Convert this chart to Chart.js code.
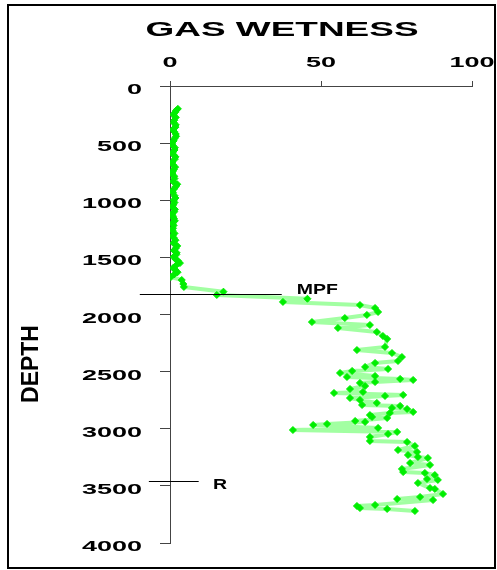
<!DOCTYPE html>
<html>
<head>
<meta charset="utf-8">
<script src="https://cdn.jsdelivr.net/npm/chart.js@4"></script>
<style>
  body { margin: 0; background: #fff; }
  canvas { display: block; }
</style>
</head>
<body>
<canvas id="canvas" width="497" height="570"></canvas>
<script>
var chartTitle = 'GAS WETNESS';
var yAxisTitle = 'DEPTH';
var xTicks = [0, 50, 100];
var yTicks = [0, 500, 1000, 1500, 2000, 2500, 3000, 3500, 4000];
var markerNames = ['MPF', 'R'];
var markerDepths = [1820, 3460];

var depthFt = [
    200, 215, 230, 250, 275, 300, 320, 340, 360, 380,
    400, 420, 440, 460, 480, 500, 520, 540, 560, 580,
    600, 620, 640, 665, 690, 710, 730, 750, 770, 790,
    810, 835, 860, 880, 900, 920, 935, 960, 980, 1000,
    1020, 1040, 1060, 1080, 1100, 1120, 1140, 1160, 1180, 1200,
    1220, 1245, 1265, 1290, 1310, 1330, 1350, 1375, 1400, 1420,
    1440, 1460, 1475, 1495, 1515, 1530, 1550, 1570, 1593, 1610,
    1630, 1650, 1672, 1698, 1733, 1759,
    1800, 1829, 1862, 1890, 1917, 1943, 1978, 2004, 2031, 2066,
    2092, 2118, 2153, 2188, 2214, 2284, 2311, 2337, 2372, 2407,
    2424, 2459, 2477, 2494, 2512, 2538, 2547, 2564, 2573, 2591,
    2599, 2626, 2652, 2678, 2687, 2704, 2713, 2731, 2748, 2774,
    2792, 2800, 2818, 2827, 2853, 2862, 2880, 2897, 2906, 2932,
    2941, 2958, 2967, 2993, 3011, 3028, 3046, 3072, 3107, 3116,
    3151, 3186, 3203, 3230, 3247, 3256, 3300, 3317, 3352, 3379,
    3387, 3405, 3440, 3448, 3475, 3519, 3527, 3571, 3597, 3615,
    3624, 3667, 3676, 3694, 3702, 3720
];
var wetness = [
    2.6, 2.0, 1.7, 1.1, 1.9, 1.4, 1.2, 1.9, 1.8, 1.0,
    1.4, 1.9, 2.0, 1.5, 1.2, 0.7, 0.9, 1.6, 1.5, 0.9,
    1.1, 1.8, 1.6, 0.8, 1.0, 1.7, 1.3, 0.9, 0.8, 1.4,
    1.5, 1.0, 2.4, 1.9, 1.4, 0.8, 1.0, 1.5, 1.8, 1.2,
    1.5, 1.1, 0.9, 1.6, 1.4, 0.7, 1.0, 1.3, 1.6, 0.9,
    1.2, 1.0, 0.8, 1.5, 0.9, 1.3, 1.8, 1.1, 2.4, 1.9,
    1.3, 2.2, 2.1, 1.2, 1.8, 2.6, 3.3, 2.0, 1.0, 1.8,
    2.5, 1.4, 0.3, 3.9, 4.4, 4.6,
    17.7, 15.5, 45.5, 37.4, 62.9, 67.9, 68.9, 65.2, 57.9, 47.0,
    66.2, 55.6, 68.5, 70.5, 71.9, 71.2, 61.9, 73.5, 76.8, 75.5,
    67.9, 64.6, 72.2, 60.3, 56.3, 67.9, 58.6, 76.2, 80.5, 67.9,
    62.9, 64.6, 59.6, 63.9, 54.3, 77.2, 71.2, 59.6, 62.9, 68.5,
    63.6, 76.2, 73.5, 78.5, 80.5, 72.8, 66.2, 66.9, 71.9, 61.3,
    64.6, 52.0, 47.4, 68.9, 40.7, 75.2, 72.2, 66.2, 66.2, 78.5,
    81.1, 75.5, 81.8, 78.8, 82.1, 85.4, 79.5, 86.1, 76.8, 77.2,
    84.4, 87.7, 85.1, 88.7, 82.1, 86.1, 87.7, 90.4, 82.8, 75.2,
    87.1, 67.9, 61.9, 62.9, 71.9, 81.1
];

var FONT = '"Liberation Sans", Arial, sans-serif';

// the original labels are drawn wide, so stretch them horizontally
function wideText(ctx, s, x, y, size, sx, align) {
    ctx.save();
    ctx.font = 'bold ' + size + 'px ' + FONT;
    ctx.textAlign = align;
    ctx.textBaseline = 'alphabetic';
    ctx.translate(x, y);
    ctx.scale(sx, 1);
    ctx.fillText(s, 0, 0);
    ctx.restore();
}

var labelsPlugin = {
    id: 'labels',
    beforeDraw: function (chart) {
        var ctx = chart.ctx;
        ctx.save();
        ctx.fillStyle = '#fff';
        ctx.fillRect(0, 0, chart.width, chart.height);
        ctx.strokeStyle = '#000';
        ctx.lineWidth = 2;
        ctx.strokeRect(8, 5, 487, 563);
        ctx.restore();
    },
    afterDraw: function (chart) {
        var ctx = chart.ctx;
        var xs = chart.scales.x, ys = chart.scales.y;
        ctx.save();
        ctx.fillStyle = '#000';

        wideText(ctx, chartTitle, 282, 36, 21, 1.76, 'center');

        xs.ticks.forEach(function (t) {
            wideText(ctx, String(t.value), xs.getPixelForValue(t.value), 67, 15, 1.8, 'center');
        });
        ys.ticks.forEach(function (t) {
            wideText(ctx, String(t.value), 142, ys.getPixelForValue(t.value) + 8, 15, 1.8, 'right');
        });

        // axis title
        ctx.save();
        ctx.translate(38, 364);
        ctx.rotate(-Math.PI / 2);
        ctx.font = 'bold 23px ' + FONT;
        ctx.textAlign = 'center';
        ctx.fillText(yAxisTitle, 0, 0);
        ctx.restore();

        // picks
        var spans = [[-10, 37], [-7, 9.5]];
        var textAt = [[42, -1], [14.2, 7]];
        ctx.strokeStyle = '#000';
        ctx.lineWidth = 1;
        markerNames.forEach(function (name, i) {
            var py = Math.round(ys.getPixelForValue(markerDepths[i])) + 0.5;
            ctx.beginPath();
            ctx.moveTo(xs.getPixelForValue(spans[i][0]), py);
            ctx.lineTo(xs.getPixelForValue(spans[i][1]), py);
            ctx.stroke();
            wideText(ctx, name, xs.getPixelForValue(textAt[i][0]), py + textAt[i][1], 15, 1.3, 'left');
        });
        ctx.restore();
    }
};

var points = depthFt.map(function (d, i) { return { x: wetness[i], y: d }; });

window.onload = function () {
    var ctx = document.getElementById('canvas').getContext('2d');
    window.myChart = new Chart(ctx, {
        type: 'scatter',
        data: {
            datasets: [{
                label: 'gas wetness',
                data: points,
                showLine: true,
                borderColor: 'rgba(100, 255, 100, 0.6)',
                borderWidth: 4,
                borderJoinStyle: 'round',
                borderCapStyle: 'round',
                pointStyle: 'rectRot',
                pointRadius: 3.5,
                pointBackgroundColor: '#00ee00',
                pointBorderColor: '#00ee00',
                pointBorderWidth: 1,
                tension: 0
            }]
        },
        options: {
            responsive: false,
            animation: false,
            layout: {
                padding: { left: 160, top: 81, right: 25, bottom: 27 }
            },
            plugins: {
                legend: { display: false },
                title: { display: false },
                tooltip: { enabled: false }
            },
            scales: {
                x: {
                    type: 'linear',
                    position: 'top',
                    min: 0,
                    max: 100,
                    afterBuildTicks: function (scale) {
                        scale.ticks = xTicks.map(function (v) { return { value: v }; });
                    },
                    ticks: { display: false },
                    grid: { drawOnChartArea: false, tickLength: 5, color: '#444' },
                    border: { color: '#444' }
                },
                y: {
                    type: 'linear',
                    reverse: true,
                    min: 0,
                    max: 4000,
                    afterBuildTicks: function (scale) {
                        scale.ticks = yTicks.map(function (v) { return { value: v }; });
                    },
                    ticks: { display: false },
                    grid: { drawOnChartArea: false, tickLength: 10, color: '#444' },
                    border: { color: '#444' }
                }
            }
        },
        plugins: [labelsPlugin]
    });
};
</script>
</body>
</html>
